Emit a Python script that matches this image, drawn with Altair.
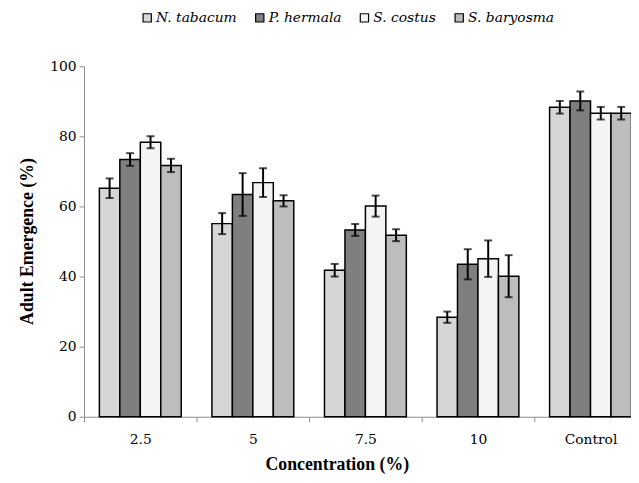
import altair as alt
import pandas as pd

concentrations = ["2.5", "5", "7.5", "10", "Control"]
species = ["N. tabacum", "P. hermala", "S. costus", "S. baryosma"]
fills = ["#d6d6d6", "#7f7f7f", "#f4f4f4", "#bdbdbd"]

n_tabacum = [65.2, 55.1, 41.8, 28.4, 88.3]
p_hermala = [73.4, 63.4, 53.3, 43.5, 90.1]
s_costus = [78.3, 66.8, 60.1, 45.1, 86.6]
s_baryosma = [71.7, 61.6, 51.8, 40.1, 86.6]

n_tabacum_err = [2.8, 3.0, 1.8, 1.6, 1.8]
p_hermala_err = [1.8, 6.1, 1.7, 4.3, 2.7]
s_costus_err = [1.7, 4.1, 3.0, 5.2, 1.8]
s_baryosma_err = [1.9, 1.6, 1.7, 6.0, 1.8]

rows = []
for sp, vals, errs in [
    (species[0], n_tabacum, n_tabacum_err),
    (species[1], p_hermala, p_hermala_err),
    (species[2], s_costus, s_costus_err),
    (species[3], s_baryosma, s_baryosma_err),
]:
    for c, v, e in zip(concentrations, vals, errs):
        rows.append({"conc": c, "species": sp, "value": v, "lo": v - e, "hi": v + e})
df = pd.DataFrame(rows)

TITLE_FONT = "Liberation Serif"
LABEL_FONT = "DejaVu Serif"

x_enc = alt.X(
    "conc:N",
    sort=concentrations,
    scale=alt.Scale(range=[0, 570], paddingInner=0, paddingOuter=0),
    axis=alt.Axis(
        title="Concentration (%)",
        labelAngle=0,
        tickBand="extent",
        labelPadding=11,
        titleX=256,
        titleY=48,
        titleAlign="center",
        titleBaseline="middle",
    ),
)
xoff = alt.XOffset(
    "species:N",
    sort=species,
    scale=alt.Scale(paddingOuter=0.75, paddingInner=0),
)
y_enc = alt.Y(
    "value:Q",
    scale=alt.Scale(domain=[0, 100]),
    axis=alt.Axis(
        title="Adult Emergence (%)",
        values=[0, 20, 40, 60, 80, 100],
        grid=False,
        labelPadding=3,
        titleX=-57,
        titleY=177,
        titleAlign="center",
        titleBaseline="middle",
    ),
)

bars = alt.Chart(df).mark_bar(stroke="#000000", strokeWidth=1.5).encode(
    x=x_enc,
    xOffset=xoff,
    y=y_enc,
    fill=alt.Fill(
        "species:N",
        sort=species,
        scale=alt.Scale(domain=species, range=fills),
        legend=alt.Legend(
            title=None,
            orient="none",
            legendX=57,
            legendY=-56,
            direction="horizontal",
            columns=4,
            columnPadding=16,
            symbolType="square",
            symbolSize=70,
            symbolStrokeColor="#000000",
            symbolStrokeWidth=1.2,
            labelOffset=2,
        ),
    ),
)

err = alt.Chart(df).mark_rule(color="#000000", strokeWidth=2).encode(
    x=alt.X("conc:N", sort=concentrations),
    xOffset=alt.XOffset("species:N", sort=species),
    y="lo:Q",
    y2="hi:Q",
)
cap_hi = alt.Chart(df).mark_tick(color="#000000", thickness=2, size=8).encode(
    x=alt.X("conc:N", sort=concentrations),
    xOffset=alt.XOffset("species:N", sort=species),
    y="hi:Q",
)
cap_lo = alt.Chart(df).mark_tick(color="#000000", thickness=2, size=8).encode(
    x=alt.X("conc:N", sort=concentrations),
    xOffset=alt.XOffset("species:N", sort=species),
    y="lo:Q",
)

chart = (
    alt.layer(bars, err, cap_hi, cap_lo)
    .properties(
        width=554,
        height=355,
        autosize=alt.AutoSizeParams(type="none"),
        padding={"left": 77, "top": 56, "right": 0, "bottom": 56},
        background="#ffffff",
    )
    .configure(font=LABEL_FONT)
    .configure_view(stroke=None)
    .configure_axis(
        labelFont=LABEL_FONT,
        labelFontSize=14,
        labelColor="#000000",
        tickSize=5,
        tickColor="#8c8c8c",
        domainColor="#8c8c8c",
        titleFont=TITLE_FONT,
        titleFontSize=18,
        titleFontWeight="bold",
        titleColor="#000000",
    )
    .configure_legend(
        labelFont=LABEL_FONT,
        labelFontSize=14,
        labelFontStyle="italic",
        labelColor="#000000",
    )
)

chart.save("out.html", embed_options={"renderer": "svg", "actions": False})
